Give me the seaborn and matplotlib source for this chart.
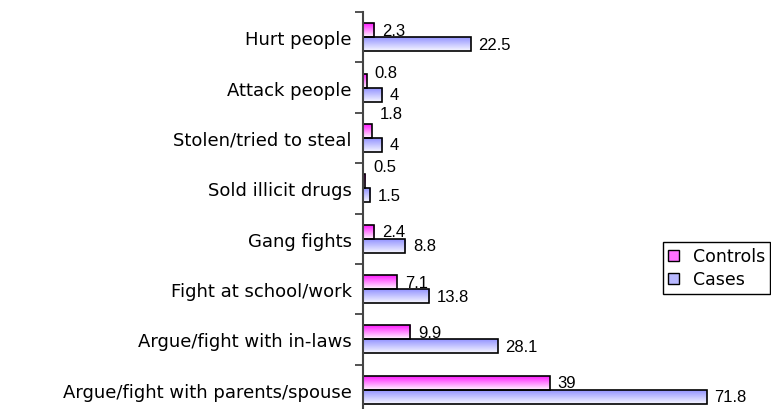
import numpy as np
import pandas as pd
import matplotlib
matplotlib.use("Agg")
import matplotlib.pyplot as plt
import seaborn as sns
from matplotlib.patches import Patch
from matplotlib.ticker import FixedLocator

categories = ["Hurt people", "Attack people", "Stolen/tried to steal",
              "Sold illicit drugs", "Gang fights", "Fight at school/work",
              "Argue/fight with in-laws", "Argue/fight with parents/spouse"]
controls = [2.3, 0.8, 1.8, 0.5, 2.4, 7.1, 9.9, 39]
cases = [22.5, 4, 4, 1.5, 8.8, 13.8, 28.1, 71.8]
series = ["Controls", "Cases"]

# upward nudges (pixels) for a few Controls labels, as placed in the original
controls_label_nudge = [0, 8, 17, 15, 0, 0, 0, 0]

df = pd.DataFrame({
    "Behaviour": categories * 2,
    "Percent": controls + cases,
    "Group": [series[0]] * len(categories) + [series[1]] * len(categories),
})

sns.set_style("white")
plt.rcParams["font.family"] = ["DejaVu Sans"]
plt.rcParams["text.color"] = "black"
plt.rcParams["ytick.color"] = "black"
plt.rcParams["ytick.labelcolor"] = "black"

W, H = 771, 410
fig = plt.figure(figsize=(W / 100, H / 100), dpi=100)
ax = fig.add_axes([363 / W, (H - 416) / H, 383 / W, 403 / H])

sns.barplot(data=df, y="Behaviour", x="Percent", hue="Group",
            hue_order=series, order=categories, orient="h",
            width=0.556, palette=["#ff66ff", "#b3b3ff"],
            edgecolor="black", linewidth=1.2, errorbar=None,
            legend=False, ax=ax)

grad_colors = {
    0: (np.array([1.0, 0.05, 1.0]), np.array([1.0, 0.97, 1.0])),
    1: (np.array([0.55, 0.55, 1.0]), np.array([0.97, 0.97, 1.0])),
}
g = np.linspace(0, 1, 64)[:, None, None]
for ci, cont in enumerate(ax.containers):
    top, bot = grad_colors[ci]
    rgb = top[None, None, :] * (1 - g) + bot[None, None, :] * g
    for bar in cont:
        x0, y0 = bar.get_x(), bar.get_y()
        w, h = bar.get_width(), bar.get_height()
        im = ax.imshow(rgb, extent=(x0, x0 + w, y0 + h, y0), origin="upper",
                       aspect="auto", interpolation="bilinear", zorder=1)
        im.set_clip_path(bar)
        bar.set_facecolor("none")
        bar.set_zorder(2)

ax.set_xlim(0, 80)
ax.set_ylim(len(categories) - 0.5, -0.5)
ax.set_aspect("auto")

# value labels
for ci, cont in enumerate(ax.containers):
    vals = controls if ci == 0 else cases
    for i, bar in enumerate(cont):
        dy = controls_label_nudge[i] if ci == 0 else 0
        ax.annotate(f"{vals[i]:g}",
                    xy=(bar.get_width(), bar.get_y() + bar.get_height() / 2),
                    xytext=(5.5, dy * 0.72), textcoords="offset points",
                    ha="left", va="center", fontsize=12, color="black",
                    family=["Liberation Sans", "DejaVu Sans"], zorder=3)

ax.set_xlabel("")
ax.set_ylabel("")
ax.set_xticks([])
ax.set_yticks(range(len(categories)))
ax.set_yticklabels(categories, fontsize=13, color="black")
ax.yaxis.set_minor_locator(FixedLocator(np.arange(-0.5, len(categories), 1.0)))
ax.tick_params(axis="y", which="major", left=True, length=0, pad=8)
ax.tick_params(axis="y", which="minor", left=True, length=6, width=1.3,
               color="#444444", direction="out")
for s in ["top", "right", "bottom"]:
    ax.spines[s].set_visible(False)
ax.spines["left"].set_color("#444444")
ax.spines["left"].set_linewidth(1.5)

handles = [Patch(facecolor="#ff70ff", edgecolor="black", linewidth=1),
           Patch(facecolor="#b8b8ff", edgecolor="black", linewidth=1)]
leg = fig.legend(handles, series, loc="upper left",
                 bbox_to_anchor=(663 / W, 1 - 243 / H),
                 bbox_transform=fig.transFigure, frameon=True, fancybox=False,
                 edgecolor="black", framealpha=1, fontsize=12.5,
                 handlelength=0.6, handleheight=0.6, handletextpad=0.8,
                 borderpad=0.3, labelspacing=0.3, borderaxespad=0)
leg.get_frame().set_linewidth(1)
for t in leg.get_texts():
    t.set_color("black")

fig.savefig("out.png", dpi=100)
